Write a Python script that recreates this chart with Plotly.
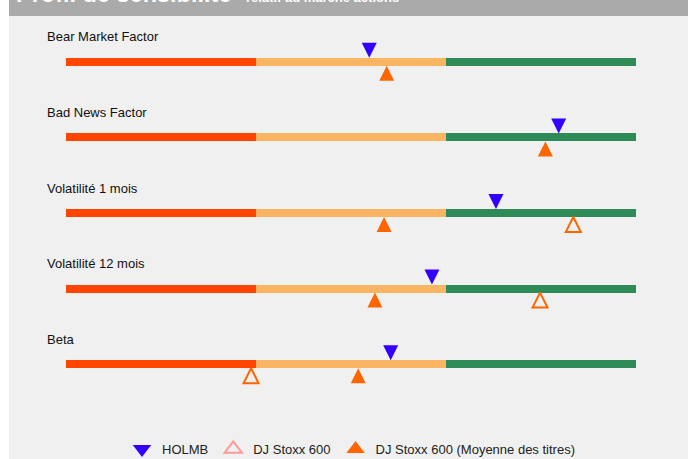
import plotly.graph_objects as go

# ---- data ----
factors = ["Bear Market Factor", "Bad News Factor", "Volatilité 1 mois",
           "Volatilité 12 mois", "Beta"]
segments = ["Faible", "Moyen", "Élevé"]
segment_widths = [1, 1, 1]
segment_colors = ["#ff4500", "#fab562", "#2e8b57"]

holmb = [1.596, 2.593, 2.263, 1.926, 1.709]
stoxx600 = [None, None, 2.670, 2.495, 0.974]
stoxx600_avg = [1.688, 2.523, 1.674, 1.626, 1.538]

series_names = ["HOLMB", "DJ Stoxx 600", "DJ Stoxx 600 (Moyenne des titres)"]

# ---- layout constants (pixels) ----
W, H = 688, 459
ML, MR, MT, MB = 66, 52, 24, 57
plot_h = H - MT - MB
rows = list(range(len(factors)))
unit_px = plot_h / len(factors)
bar_px = 8
off = (bar_px / 2) / unit_px

fig = go.Figure()

for name, w, c in zip(segments, segment_widths, segment_colors):
    fig.add_trace(go.Bar(
        y=rows, x=[w] * len(rows), orientation="h", name=name,
        marker=dict(color=c, line=dict(width=0)),
        width=bar_px / unit_px, showlegend=False, hoverinfo="skip"))

fig.add_trace(go.Scatter(
    x=holmb, y=[r - off for r in rows], mode="markers", name=series_names[0],
    marker=dict(symbol="arrow-down", size=15, color="#3300ff"),
    showlegend=False))
fig.add_trace(go.Scatter(
    x=stoxx600, y=[r + off for r in rows], mode="markers", name=series_names[1],
    marker=dict(symbol="arrow-up-open", size=15, color="#ff6600",
                line=dict(width=2, color="#ff6600")),
    showlegend=False))
fig.add_trace(go.Scatter(
    x=stoxx600_avg, y=[r + off for r in rows], mode="markers", name=series_names[2],
    marker=dict(symbol="arrow-up", size=15, color="#ff6600"),
    showlegend=False))

# legend entries
legend_styles = [
    dict(symbol="triangle-down", size=16, color="#3300ff"),
    dict(symbol="triangle-up-open", size=15, color="#ff9999", line=dict(width=2, color="#ff9999")),
    dict(symbol="triangle-up", size=16, color="#ff6600"),
]
for nm, st in zip(series_names, legend_styles):
    fig.add_trace(go.Scatter(x=[None], y=[None], mode="markers", name=nm,
                             marker=st, showlegend=True))

def px_to_paper_x(px):
    return (px - ML) / (W - ML - MR)

def px_to_paper_y(py):
    return (H - MB - py) / plot_h

annotations = []
for r, f in zip(rows, factors):
    annotations.append(dict(
        text=f, x=px_to_paper_x(45), xref="paper", xanchor="left",
        y=r - 25 / unit_px, yref="y", yanchor="middle", showarrow=False,
        font=dict(family="Arial, Liberation Sans", size=13, color="#111111")))

annotations.append(dict(
    text="<b>Profil de sensibilité</b> <b style='font-size:13px'>- relatif au marché actions</b>",
    x=px_to_paper_x(14), xref="paper", xanchor="left",
    y=px_to_paper_y(9), yref="paper", yanchor="bottom", showarrow=False,
    font=dict(family="Arial, Liberation Sans", size=23.5, color="#ffffff")))

shapes = [
    dict(type="rect", xref="paper", yref="paper", layer="below",
         x0=px_to_paper_x(9), x1=px_to_paper_x(W), y0=px_to_paper_y(H), y1=px_to_paper_y(16),
         fillcolor="#f0f0f0", line=dict(width=0)),
    dict(type="rect", xref="paper", yref="paper", layer="below",
         x0=px_to_paper_x(9), x1=px_to_paper_x(W), y0=px_to_paper_y(16), y1=px_to_paper_y(-5),
         fillcolor="#aaaaaa", line=dict(width=0)),
]

fig.update_layout(
    width=W, height=H,
    margin=dict(l=ML, r=MR, t=MT, b=MB, pad=0, autoexpand=False),
    paper_bgcolor="#ffffff", plot_bgcolor="#f0f0f0",
    barmode="stack", bargap=0,
    xaxis=dict(range=[0, 3], showgrid=False, zeroline=False, showticklabels=False,
               showline=False, fixedrange=True),
    yaxis=dict(range=[len(factors) - 0.5, -0.5], showgrid=False, zeroline=False,
               showticklabels=False, showline=False, fixedrange=True),
    legend=dict(orientation="h", x=0.5, xanchor="center", traceorder="normal",
                y=px_to_paper_y(449), yanchor="middle",
                bgcolor="rgba(0,0,0,0)",
                font=dict(family="Arial, Liberation Sans", size=13, color="#222222")),
    annotations=annotations, shapes=shapes,
    font=dict(family="Arial, Liberation Sans"),
)

fig.write_html("out.html")
